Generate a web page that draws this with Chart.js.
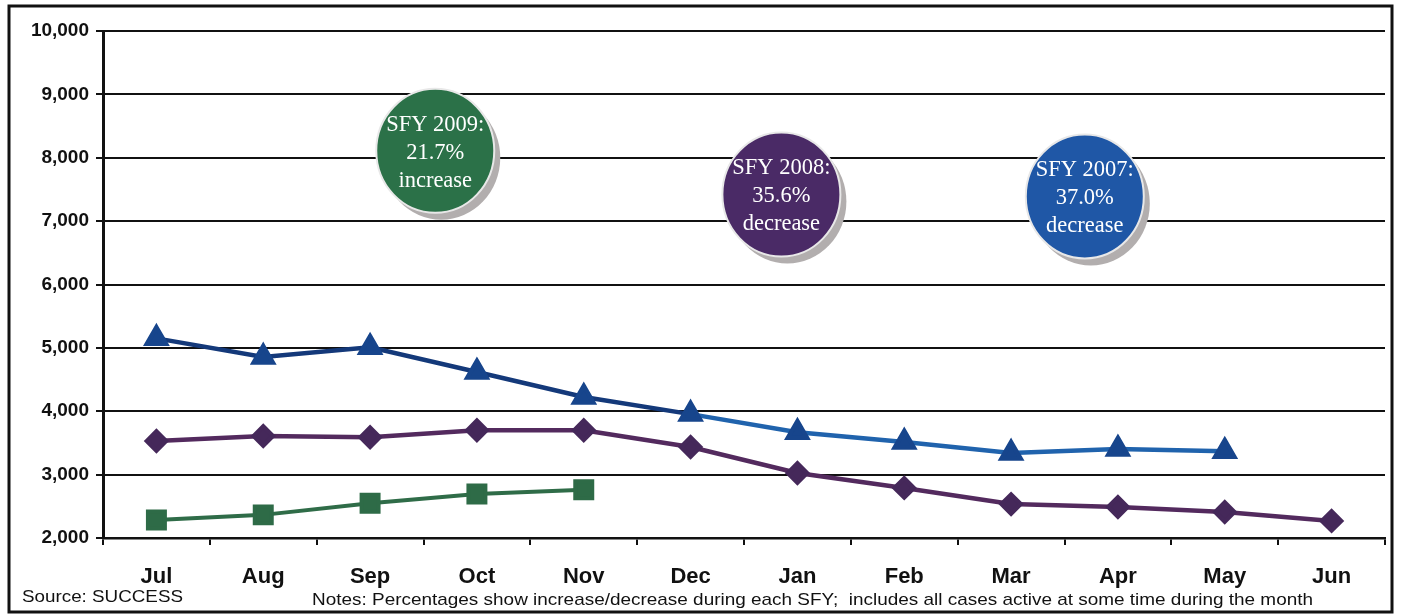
<!DOCTYPE html>
<html>
<head>
<meta charset="utf-8">
<script src="https://cdn.jsdelivr.net/npm/chart.js@4.4.1/dist/chart.umd.min.js"></script>
<style>
  html, body { margin: 0; padding: 0; background: #fff; }
  #wrap { width: 1401px; height: 616px; position: relative; }
</style>
</head>
<body>
<div id="wrap"><canvas id="caseChart" width="1401" height="616"></canvas></div>
<script>
const months = ['Jul', 'Aug', 'Sep', 'Oct', 'Nov', 'Dec', 'Jan', 'Feb', 'Mar', 'Apr', 'May', 'Jun'];
const sfy2007 = [5150, 4855, 5010, 4620, 4225, 3955, 3670, 3515, 3340, 3405, 3370, null];
const sfy2008 = [3530, 3610, 3590, 3700, 3700, 3435, 3025, 2790, 2535, 2490, 2410, 2270];
const sfy2009 = [2285, 2365, 2550, 2695, 2760, null, null, null, null, null, null, null];
const yTicks = [2000, 3000, 4000, 5000, 6000, 7000, 8000, 9000, 10000];

// bubbles: x as month index, y as value
const bubbles = [
    { x: 2.61, y: 8110, fill: '#2b7148', lines: ['SFY 2009:', '21.7%', 'increase'] },
    { x: 5.85, y: 7420, fill: '#4a2a66', lines: ['SFY 2008:', '35.6%', 'decrease'] },
    { x: 8.69, y: 7390, fill: '#1f57a6', lines: ['SFY 2007:', '37.0%', 'decrease'] }
];
const sourceNote = 'Source: SUCCESS';
const footNote = 'Notes: Percentages show increase/decrease during each SFY;  includes all cases active at some time during the month';

// draw text squeezed/stretched to a given width
function fitText(ctx, text, x, y, width) {
    const w = ctx.measureText(text).width;
    ctx.save();
    ctx.translate(x, y);
    ctx.scale(width / w, 1);
    ctx.fillText(text, 0, 0);
    ctx.restore();
}

const extras = {
    id: 'extras',
    afterDatasetsDraw(chart) {
        const ctx = chart.ctx;
        const xs = chart.scales.x, ys = chart.scales.y;
        ctx.save();
        bubbles.forEach(b => {
            const cx = xs.getPixelForValue(b.x);
            const cy = ys.getPixelForValue(b.y);
            const rx = 59, ry = 62;
            ctx.fillStyle = '#b2aeae';
            ctx.beginPath();
            ctx.ellipse(cx + 6, cy + 7, rx, ry, 0, 0, Math.PI * 2);
            ctx.fill();
            ctx.fillStyle = b.fill;
            ctx.beginPath();
            ctx.ellipse(cx, cy, rx, ry, 0, 0, Math.PI * 2);
            ctx.fill();
            ctx.strokeStyle = '#e8e8e8';
            ctx.lineWidth = 2;
            ctx.stroke();
            ctx.fillStyle = '#fff';
            ctx.font = '22.5px "Liberation Serif", "Times New Roman", serif';
            ctx.textAlign = 'center';
            ctx.textBaseline = 'middle';
            b.lines.forEach((t, i) => ctx.fillText(t, cx, cy + 2 + (i - 1) * 28));
        });
        ctx.restore();
    },
    afterDraw(chart) {
        const ctx = chart.ctx;
        ctx.save();
        ctx.strokeStyle = '#111';
        ctx.lineWidth = 3;
        ctx.strokeRect(9, 6, 1383, 606);
        ctx.fillStyle = '#111';
        ctx.font = '17px "Liberation Sans", Arial, sans-serif';
        ctx.textBaseline = 'alphabetic';
        ctx.textAlign = 'left';
        fitText(ctx, sourceNote, 22, 602, 161);
        fitText(ctx, footNote, 312, 605, 1001);
        ctx.restore();
    }
};

new Chart(document.getElementById('caseChart').getContext('2d'), {
    type: 'line',
    data: {
        labels: months,
        datasets: [{
            label: 'SFY 2007',
            data: sfy2007,
            borderColor: '#1a4f98',
            segment: {
                borderColor: c => c.p0DataIndex < 5 ? '#14397a' : '#2063ad'
            },
            borderWidth: 4.5,
            pointStyle: 'triangle',
            pointRadius: 11,
            pointBackgroundColor: '#17458c',
            pointBorderColor: '#17458c'
        }, {
            label: 'SFY 2008',
            data: sfy2008,
            borderColor: '#532a5e',
            borderWidth: 4.5,
            pointStyle: 'rectRot',
            pointRadius: 9.5,
            pointBackgroundColor: '#45285a',
            pointBorderColor: '#45285a'
        }, {
            label: 'SFY 2009',
            data: sfy2009,
            borderColor: '#2f6c48',
            borderWidth: 4,
            pointStyle: 'rect',
            pointRadius: 12,
            pointBackgroundColor: '#2e6b47',
            pointBorderColor: '#2e6b47'
        }]
    },
    options: {
        responsive: false,
        animation: false,
        layout: { padding: { top: 31, right: 10, left: 0, bottom: 0 } },
        plugins: {
            legend: { display: false },
            tooltip: { enabled: false }
        },
        scales: {
            x: {
                offset: true,
                grid: {
                    offset: true,
                    drawOnChartArea: false,
                    drawTicks: true,
                    tickLength: 7,
                    color: '#111',
                    lineWidth: 2
                },
                border: { display: true, color: '#111', width: 2.5 },
                ticks: {
                    color: '#111',
                    padding: 19,
                    maxRotation: 0,
                    font: { family: '"Liberation Sans", Arial, sans-serif', size: 22, weight: 'bold' }
                },
                afterFit: s => { s.height = 78; }
            },
            y: {
                min: 2000,
                max: 10000,
                afterBuildTicks: s => { s.ticks = yTicks.map(v => ({ value: v })); },
                grid: {
                    color: '#111',
                    lineWidth: 2,
                    tickLength: 7
                },
                border: { display: true, color: '#111', width: 3 },
                ticks: {
                    color: '#111',
                    padding: 7,
                    font: { family: '"Liberation Sans", Arial, sans-serif', size: 19, weight: 'bold' },
                    callback: v => v.toLocaleString('en-US')
                },
                afterFit: s => { s.width = 103; }
            }
        }
    },
    plugins: [extras]
});
</script>
</body>
</html>
